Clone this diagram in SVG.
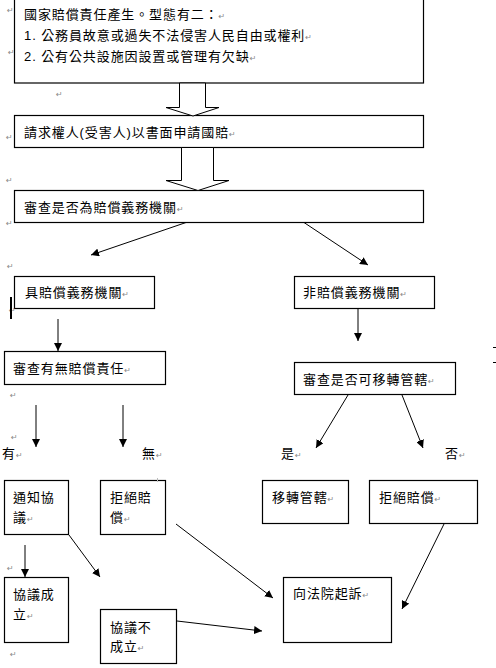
<svg xmlns="http://www.w3.org/2000/svg" width="496" height="668" viewBox="0 0 496 668">
<style>
.box{fill:#fff;stroke:#000;stroke-width:1.2}
.blk{fill:#fff;stroke:#000;stroke-width:1}
.t{font-family:"Liberation Sans","Noto Sans CJK TC",sans-serif;font-size:13px;letter-spacing:0.9px;fill:#000}
.pm{font-family:"DejaVu Sans",sans-serif;font-size:8px;fill:#888;letter-spacing:0}
.c{stroke:#000;stroke-width:1;fill:none}
</style>
<defs>
<marker id="ah" viewBox="0 0 10 10" refX="10" refY="5" markerWidth="8" markerHeight="8" markerUnits="userSpaceOnUse" orient="auto">
<path d="M0,0 L10,5 L0,10 z" fill="#000"/>
</marker>
</defs>
<rect width="496" height="668" fill="#fff"/>

<g id="n1">
<rect class="box" x="14.5" y="-1" width="409" height="84"/>
<text class="t" x="24" y="19">國家賠償責任產生。型態有二：<tspan class="pm">↵</tspan></text>
<text class="t" x="24" y="40">1. 公務員故意或過失不法侵害人民自由或權利<tspan class="pm">↵</tspan></text>
<text class="t" x="24" y="61">2. 公有公共設施因設置或管理有欠缺<tspan class="pm">↵</tspan></text>
</g>

<g id="n2">
<rect class="box" x="14.5" y="115.5" width="409" height="32"/>
<text class="t" x="24" y="137">請求權人(受害人)以書面申請國賠<tspan class="pm">↵</tspan></text>
</g>

<g id="n3">
<rect class="box" x="14.5" y="190.5" width="409" height="32"/>
<text class="t" x="24" y="212">審查是否為賠償義務機關<tspan class="pm">↵</tspan></text>
</g>

<g id="n4">
<rect class="box" x="14.5" y="276.5" width="140" height="32"/>
<text class="t" x="25" y="297">具賠償義務機關<tspan class="pm">↵</tspan></text>
</g>

<g id="n5">
<rect class="box" x="294.5" y="276.5" width="140" height="32"/>
<text class="t" x="303" y="297">非賠償義務機關<tspan class="pm">↵</tspan></text>
</g>

<g id="n6">
<rect class="box" x="4.5" y="351.5" width="161" height="33"/>
<text class="t" x="13" y="373">審查有無賠償責任<tspan class="pm">↵</tspan></text>
</g>

<g id="n7">
<rect class="box" x="294.5" y="362.5" width="161" height="32"/>
<text class="t" x="303" y="384">審查是否可移轉管轄<tspan class="pm">↵</tspan></text>
</g>

<g id="n8">
<rect class="box" x="4.5" y="480.5" width="64" height="54"/>
<text class="t" x="13" y="502">通知協</text>
<text class="t" x="13" y="522">議<tspan class="pm">↵</tspan></text>
</g>

<g id="n9">
<rect class="box" x="100.5" y="480.5" width="65" height="54"/>
<text class="t" x="110" y="502">拒絕賠</text>
<text class="t" x="110" y="522">償<tspan class="pm">↵</tspan></text>
</g>

<g id="n10">
<rect class="box" x="262.5" y="480.5" width="86" height="43"/>
<text class="t" x="272" y="502">移轉管轄<tspan class="pm">↵</tspan></text>
</g>

<g id="n11">
<rect class="box" x="369.5" y="480.5" width="108" height="43"/>
<text class="t" x="379" y="502">拒絕賠償<tspan class="pm">↵</tspan></text>
</g>

<g id="n12">
<rect class="box" x="4.5" y="577.5" width="64" height="65"/>
<text class="t" x="13" y="599">協議成</text>
<text class="t" x="13" y="619">立<tspan class="pm">↵</tspan></text>
</g>

<g id="n13">
<rect class="box" x="100.5" y="609.5" width="76" height="54"/>
<text class="t" x="110" y="632">協議不</text>
<text class="t" x="110" y="651">成立<tspan class="pm">↵</tspan></text>
</g>

<g id="n14">
<rect class="box" x="283.5" y="577.5" width="108" height="65"/>
<text class="t" x="293" y="598">向法院起訴<tspan class="pm">↵</tspan></text>
</g>

<g id="labels">
<text class="t" x="2" y="458">有<tspan class="pm">↵</tspan></text>
<text class="t" x="142" y="458">無<tspan class="pm">↵</tspan></text>
<text class="t" x="281" y="458">是<tspan class="pm">↵</tspan></text>
<text class="t" x="445" y="458">否<tspan class="pm">↵</tspan></text>
</g>

<g id="marks">
<text class="pm" x="7" y="13">↵</text>
<text class="pm" x="8" y="55">↵</text>
<text class="pm" x="56" y="97">↵</text>
<text class="pm" x="6" y="140">↵</text>
<text class="pm" x="6" y="183">↵</text>
<text class="pm" x="6" y="226">↵</text>
<text class="pm" x="7" y="269">↵</text>
<text class="pm" x="9" y="313">↵</text>
<text class="pm" x="10" y="398">↵</text>
<text class="pm" x="11" y="440">↵</text>
<text class="pm" x="7" y="571">↵</text>
<text class="pm" x="10" y="657">↵</text>
<rect x="10" y="297" width="2" height="22" fill="#000"/>
<line x1="493" y1="347.5" x2="496" y2="347.5" stroke="#000" stroke-width="1"/>
<line x1="493" y1="362.5" x2="496" y2="362.5" stroke="#000" stroke-width="1"/>
<line x1="157.5" y1="478" x2="157.5" y2="482" stroke="#bbb" stroke-width="1"/>
</g>

<g id="connectors">
<polygon class="blk" points="179.5,83 179.5,107.5 166,107.5 193,116 219,107.5 205.5,107.5 205.5,83"/>
<polygon class="blk" points="181.5,147.5 181.5,180.5 166,180.5 198,190.5 229,180.5 213.5,180.5 213.5,147.5"/>
<line class="c" x1="186" y1="222.5" x2="91" y2="255" marker-end="url(#ah)"/>
<line class="c" x1="304" y1="222.5" x2="368" y2="265" marker-end="url(#ah)"/>
<line class="c" x1="58" y1="319" x2="58" y2="351" marker-end="url(#ah)"/>
<line class="c" x1="358" y1="309" x2="358" y2="341" marker-end="url(#ah)"/>
<line class="c" x1="36" y1="405" x2="36" y2="447" marker-end="url(#ah)"/>
<line class="c" x1="123" y1="405" x2="123" y2="447" marker-end="url(#ah)"/>
<line class="c" x1="348" y1="395" x2="316" y2="448" marker-end="url(#ah)"/>
<line class="c" x1="402" y1="395" x2="423" y2="448" marker-end="url(#ah)"/>
<line class="c" x1="25" y1="545" x2="25" y2="577" marker-end="url(#ah)"/>
<line class="c" x1="69" y1="535" x2="100" y2="577" marker-end="url(#ah)"/>
<line class="c" x1="176" y1="524" x2="273" y2="598" marker-end="url(#ah)"/>
<line class="c" x1="177" y1="621" x2="262" y2="631" marker-end="url(#ah)"/>
<line class="c" x1="444" y1="524" x2="402" y2="609" marker-end="url(#ah)"/>
</g>
</svg>
